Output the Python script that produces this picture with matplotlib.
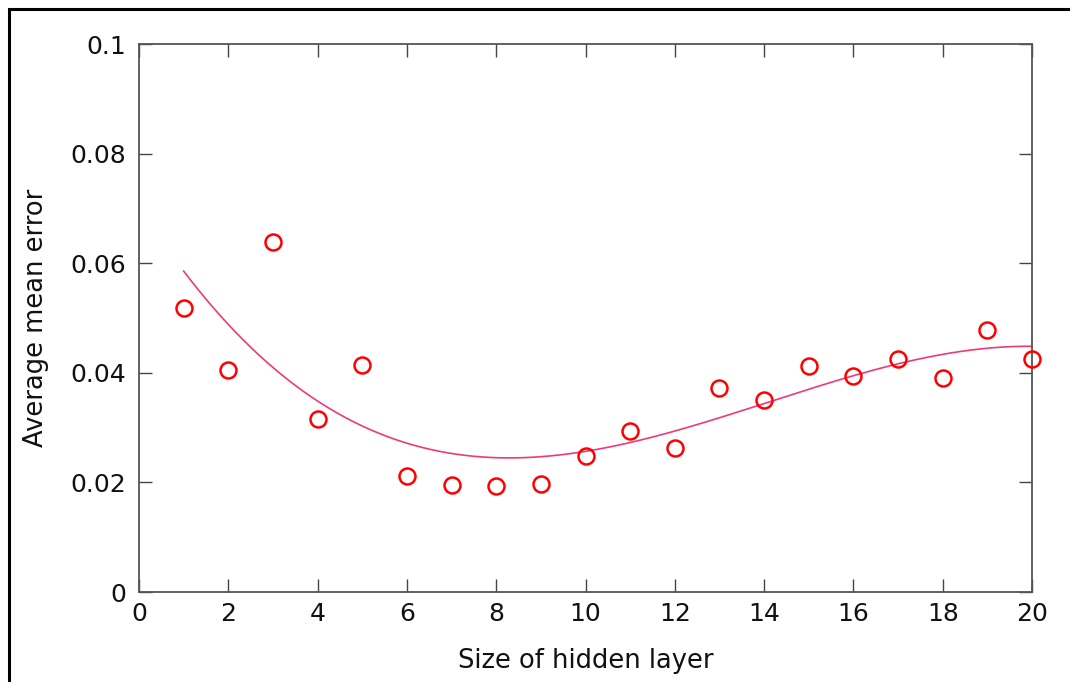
import numpy as np
import matplotlib
matplotlib.use("Agg")
import matplotlib.pyplot as plt
from matplotlib.patches import Rectangle

# Data
hidden_size = [1, 2, 3, 4, 5, 6, 7, 8, 9, 10, 11, 12, 13, 14, 15, 16, 17, 18, 19, 20]
avg_error = [0.0519, 0.0406, 0.0639, 0.0315, 0.0414, 0.0212, 0.0195, 0.0194, 0.0197, 0.0248,
             0.0294, 0.0263, 0.0373, 0.0350, 0.0412, 0.0394, 0.0425, 0.0390, 0.0479, 0.0425]
x_ticks = [0, 2, 4, 6, 8, 10, 12, 14, 16, 18, 20]
y_ticks = [0, 0.02, 0.04, 0.06, 0.08, 0.1]
y_ticklabels = ["0", "0.02", "0.04", "0.06", "0.08", "0.1"]

plt.rcParams['font.family'] = ['DejaVu Sans']

fig = plt.figure(figsize=(10.70, 6.82), dpi=100)
ax = fig.add_axes([139/1070, 90/682, (1032-139)/1070, (592-44)/682])

# Fitted cubic trend line
coef = np.polyfit(hidden_size, avg_error, 3)
xf = np.linspace(min(hidden_size), max(hidden_size), 300)
ax.plot(xf, np.polyval(coef, xf), color='#ee3a78', lw=1.2, zorder=2)

ax.plot(hidden_size, avg_error, linestyle='none', marker='o', markersize=11.5,
        markerfacecolor='none', markeredgecolor='#ff0000', markeredgewidth=1.8,
        clip_on=False, zorder=3)

ax.set_xlim(0, 20)
ax.set_ylim(0, 0.1)
ax.set_xticks(x_ticks)
ax.set_xticklabels([str(t) for t in x_ticks])
ax.set_yticks(y_ticks)
ax.set_yticklabels(y_ticklabels)

ax.tick_params(direction='in', length=9.5, width=1.0, color='#444444',
               labelsize=18, top=True, right=True, pad=9, labelcolor='#111111')
ax.tick_params(axis='x', pad=7)
for s in ax.spines.values():
    s.set_color('#555555')
    s.set_linewidth(1.3)

ax.set_xlabel("Size of hidden layer", fontsize=18.5, labelpad=16, color='#111111')
ax.set_ylabel("Average mean error", fontsize=18.5, labelpad=16, color='#111111')

# Outer frame (cut at right and bottom edges)
fig.add_artist(Rectangle((9/1070, -0.05), 1.2, (682-9)/682 + 0.05,
                         transform=fig.transFigure, fill=False,
                         edgecolor='black', linewidth=2.2, clip_on=False))

fig.savefig("out.png", dpi=100)
